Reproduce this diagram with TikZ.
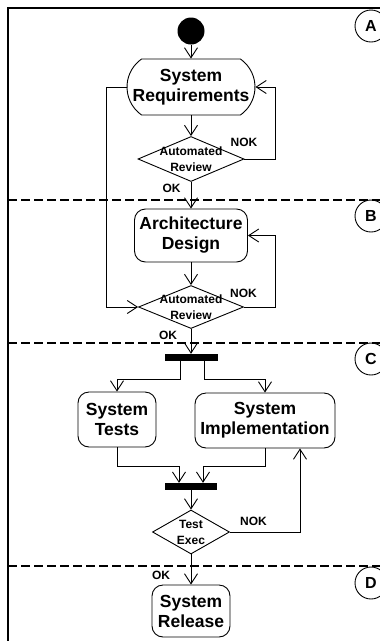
\documentclass[tikz,border=0pt]{standalone}
\usepackage{fontspec}
\setmainfont{Liberation Sans}
\usetikzlibrary{arrows.meta,shapes.geometric,shapes.misc,positioning}

\tikzset{
  flow/.style={line width=0.9pt,-{Straight Barb[length=10pt,width=13pt]}},
  lanesep/.style={line width=1.8pt,dash pattern=on 9pt off 4pt},
  activity/.style={draw,line width=0.9pt,rounded corners=11pt,inner sep=0pt,align=center,font=\fontsize{17.5}{20}\selectfont\bfseries},
  bigtxt/.style={font=\fontsize{17.5}{20}\selectfont\bfseries,align=center,inner sep=0pt},
  smalltxt/.style={font=\fontsize{12}{16}\selectfont\bfseries,align=center,inner sep=0pt},
  review/.style={draw,diamond,line width=0.9pt,inner sep=0pt},
  bar/.style={fill=black,inner sep=0pt,minimum width=53pt,minimum height=7pt},
  lanetag/.style={draw,circle,line width=0.9pt,minimum size=32pt,inner sep=0pt,font=\fontsize{16}{16}\selectfont\bfseries},
}

\begin{document}
\begin{tikzpicture}[x=1pt,y=1pt,yscale=-1,xscale=1]
\clip (0,0) rectangle (380,641); %picture is 380 wide, 641 high

%Frame and lanes
\draw [line width=1.2pt] (8,660) -- (8,8) -- (400,8) ;
\draw [lanesep] (8,200) -- (400,200) ;
\draw [lanesep] (8,343) -- (400,343) ;
\draw [lanesep] (8,566) -- (400,566) ;
\node [lanetag] (tagA) at (371,26) {A};
\node [lanetag] (tagB) at (371,216) {B};
\node [lanetag] (tagC) at (371,359) {C};
\node [lanetag] (tagD) at (371,583) {D};

%Shape: start
\node [circle,fill=black,minimum size=27pt,inner sep=0pt] (start) at (191,31) {};
%Shape: System Requirements
\node [draw,rounded rectangle,rounded rectangle arc length=110,line width=0.9pt,minimum width=128pt,minimum height=56pt,inner sep=0pt,
  label={[bigtxt]center:System\\Requirements}] (sysreq) at (191,87) {};
%Shape: review 1
\node [review,minimum width=106pt,minimum height=45pt,
  label={[smalltxt]center:Automated\\Review}] (rev1) at (191,159) {};
%Shape: Architecture Design
\node [activity,minimum width=113pt,minimum height=53pt] (archd) at (191,235.5) {Architecture\\Design};
%Shape: review 2
\node [review,minimum width=105pt,minimum height=43pt,
  label={[smalltxt]center:Automated\\Review}] (rev2) at (191,307) {};
%Shape: fork and join
\node [bar] (fork) at (191,357.5) {};
\node [bar,minimum width=52pt] (join) at (191,486.5) {};
%Shape: System Tests
\node [activity,minimum width=78pt,minimum height=55pt] (systest) at (117,419.5) {System\\Tests};
%Shape: System Implementation
\node [activity,minimum width=140pt,minimum height=55pt] (sysimpl) at (265,420.5) {System\\Implementation};
%Shape: test execution
\node [review,minimum width=77pt,minimum height=44pt,
  label={[smalltxt]center:Test\\Exec}] (test) at (191,532) {};
%Shape: System Release
\node [activity,minimum width=78pt,minimum height=52pt] (sysrel) at (191,611) {System\\Release};

%Straight Lines
\draw [flow] (start) -- (sysreq) ;
\draw [flow] (sysreq) -- (rev1) ;
\draw [flow] (rev1.east) -- ++(31,0) |- (sysreq.east) ;
\draw [flow] (rev1) -- (archd) ;
\draw [flow] (sysreq.west) -- ++(-20,0) |- (rev2.west) ;
\draw [flow] (archd) -- (rev2) ;
\draw [flow] (rev2.east) -- ++(31,0) |- (archd.east) ;
\draw [flow] (rev2) -- (fork) ;
\draw [flow] ([xshift=-11pt]fork.south) -- ++(0,18) -| (systest.north) ;
\draw [flow] ([xshift=13pt]fork.south) -- ++(0,18) -| (sysimpl.north) ;
\draw [flow] (systest.south) -- ++(0,19) -| ([xshift=-12pt]join.north) ;
\draw [flow] (sysimpl.south) -- ++(0,18) -| ([xshift=12pt]join.north) ;
\draw [flow] (join) -- (test) ;
\draw [flow] (test.east) -| ([xshift=35pt]sysimpl.south) ;
\draw [flow] (test) -- (sysrel) ;

% Text Node
\node [smalltxt] (nok1) at (244,142) {NOK};
\node [smalltxt] (ok1) at (171.5,188) {OK};
\node [smalltxt] (nok2) at (243.5,293) {NOK};
\node [smalltxt] (ok2) at (168,335) {OK};
\node [smalltxt] (nok3) at (253.5,521) {NOK};
\node [smalltxt] (ok3) at (161,575) {OK};

\end{tikzpicture}
\end{document}
